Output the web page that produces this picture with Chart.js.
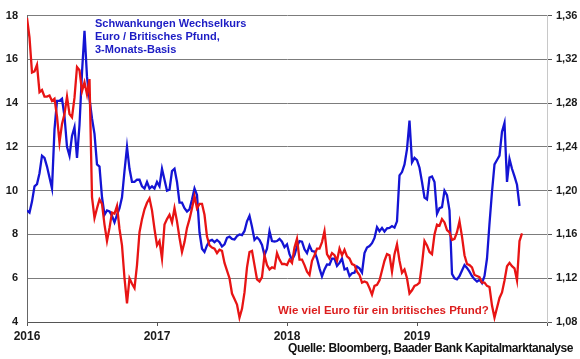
<!DOCTYPE html>
<html>
<head>
<meta charset="utf-8">
<script src="https://cdn.jsdelivr.net/npm/chart.js@4/dist/chart.umd.min.js"></script>
<style>
  body { margin: 0; background: #fff; }
  #wrap { position: relative; width: 580px; height: 359px; }
  .note { position: absolute; font-family: "Liberation Sans", Arial, sans-serif; font-weight: bold; white-space: nowrap; }
  #title { left: 95px; top: 17px; font-size: 11px; line-height: 13px; color: #1c1cc4; }
  #redNote { left: 278px; top: 303px; font-size: 11.5px; line-height: 14px; color: #dc1e1e; }
  #source { left: 288px; top: 341px; font-size: 12px; line-height: 14px; color: #111; letter-spacing: -0.45px; }
</style>
</head>
<body>
<div id="wrap">
  <canvas id="chart" width="580" height="359"></canvas>
  <div class="note" id="title">Schwankungen Wechselkurs<br>Euro / Britisches Pfund,<br>3-Monats-Basis</div>
  <div class="note" id="redNote">Wie viel Euro für ein britisches Pfund?</div>
  <div class="note" id="source">Quelle: Bloomberg, Baader Bank Kapitalmarktanalyse</div>
</div>
<script>
// weekly samples starting in the first week of 2016
const firstYear = 2016;
const weeksPerYear = 52;

// 3-month EUR/GBP volatility (left axis)
const volatility = [
  9.1, 9.0, 9.5, 10.2, 10.3, 10.8, 11.6, 11.5, 11.1, 10.6,
  10.1, 12.8, 14.1, 14.1, 14.2, 13.4, 12.0, 11.6, 12.5, 12.9,
  11.5, 13.0, 15.4, 17.3, 15.2, 14.2, 13.3, 12.6, 11.2, 11.1,
  9.7, 8.9, 9.1, 9.05, 8.85, 8.55, 8.9, 9.2, 9.7, 10.9,
  12.0, 11.0, 10.4, 10.4, 10.5, 10.5, 10.2, 10.1, 10.4, 10.1,
  10.2, 10.1, 10.4, 10.2, 11.0, 10.5, 10.0, 10.05, 10.9, 11.0,
  10.4, 9.45, 9.45, 9.2, 9.05, 9.15, 9.6, 10.1, 9.8, 8.1,
  7.35, 7.2, 7.5, 7.7, 7.75, 7.65, 7.75, 7.65, 7.45, 7.55,
  7.85, 7.9, 7.8, 7.77, 7.93, 8.0, 7.97, 8.16, 8.6, 8.85,
  8.35, 7.75, 7.87, 7.75, 7.52, 7.05, 7.35, 8.15, 7.7, 7.68,
  7.7, 7.8, 7.67, 7.42, 7.55, 7.1, 6.84, 7.06, 7.45, 7.7,
  7.67, 7.32, 7.15, 7.5, 7.24, 7.22, 6.9, 6.45, 6.08, 6.4,
  6.63, 6.62, 6.9, 6.9, 6.56, 6.7, 6.9, 6.4, 6.45, 6.1,
  6.23, 6.25, 6.53, 6.45, 6.26, 7.15, 7.4, 7.47, 7.6, 7.84,
  8.33, 8.15, 8.3, 8.13, 8.28, 8.3, 8.38, 8.31, 8.6, 10.7,
  10.85, 11.2, 11.9, 13.2, 11.3, 11.5, 11.4, 11.05, 10.4, 9.68,
  9.6, 10.6, 10.65, 10.4, 8.95, 9.2, 9.25, 10.0, 9.8, 9.1,
  6.2, 6.0, 5.95, 6.1, 6.35, 6.6, 6.47, 6.3, 6.1, 5.95,
  5.85, 5.93, 5.78, 6.1, 6.9, 8.5, 9.95, 11.2, 11.4, 11.6,
  12.7, 13.1, 10.4, 11.45, 11.0, 10.65, 10.27, 9.3
];

// euros per British pound (right axis)
const eurGbp = [
  1.358, 1.340, 1.308, 1.309, 1.315, 1.290, 1.292, 1.286, 1.286, 1.287,
  1.282, 1.284, 1.268, 1.244, 1.261, 1.270, 1.286, 1.270, 1.267, 1.285,
  1.313, 1.310, 1.291, 1.299, 1.288, 1.302, 1.194, 1.175, 1.184, 1.192,
  1.188, 1.169, 1.154, 1.166, 1.180, 1.179, 1.186, 1.165, 1.150, 1.120,
  1.097, 1.120, 1.115, 1.111, 1.132, 1.162, 1.174, 1.183, 1.189, 1.193,
  1.182, 1.165, 1.150, 1.154, 1.138, 1.169, 1.174, 1.178, 1.171, 1.184,
  1.172, 1.157, 1.144, 1.153, 1.166, 1.174, 1.184, 1.195, 1.184, 1.188,
  1.188, 1.178, 1.158, 1.150, 1.148, 1.147, 1.143, 1.146, 1.145, 1.134,
  1.127, 1.120, 1.106, 1.101, 1.096, 1.084, 1.092, 1.107, 1.130, 1.144,
  1.145, 1.132, 1.119, 1.117, 1.121, 1.141, 1.132, 1.128, 1.130, 1.129,
  1.143, 1.137, 1.133, 1.133, 1.132, 1.137, 1.134, 1.148, 1.156, 1.137,
  1.137, 1.132, 1.126, 1.123, 1.136, 1.141, 1.147, 1.147, 1.153, 1.163,
  1.142, 1.138, 1.143, 1.141, 1.136, 1.147, 1.141, 1.146, 1.140, 1.138,
  1.133, 1.132, 1.126, 1.123, 1.116, 1.117, 1.116, 1.111, 1.105, 1.113,
  1.114, 1.118, 1.127, 1.136, 1.142, 1.141, 1.126, 1.142, 1.151, 1.136,
  1.125, 1.128, 1.120, 1.106, 1.109, 1.113, 1.114, 1.116, 1.133, 1.154,
  1.150, 1.144, 1.142, 1.160, 1.169, 1.168, 1.174, 1.171, 1.164, 1.162,
  1.155, 1.156, 1.162, 1.172, 1.158, 1.141, 1.133, 1.132, 1.130, 1.123,
  1.122, 1.121, 1.116, 1.116, 1.113, 1.112, 1.095, 1.084, 1.093, 1.102,
  1.107, 1.118, 1.131, 1.134, 1.131, 1.129, 1.118, 1.154, 1.161
];

const yearLabels = ['2016', '2017', '2018', '2019'];

const weekToYear = i => firstYear + i / weeksPerYear;
const toPoints = arr => arr.map((v, i) => ({ x: weekToYear(i), y: v }));

Chart.defaults.font.family = '"Liberation Sans", Arial, sans-serif';
Chart.defaults.font.weight = 'bold';
Chart.defaults.font.size = 11;
Chart.defaults.color = '#1a1a1a';

new Chart(document.getElementById('chart'), {
  type: 'line',
  data: {
    datasets: [
      {
        label: 'EUR/GBP',
        data: toPoints(eurGbp),
        yAxisID: 'y1',
        borderColor: '#e81414',
        borderWidth: 2.3,
        pointRadius: 0,
        order: 0
      },
      {
        label: 'Volatilität',
        data: toPoints(volatility),
        yAxisID: 'y',
        borderColor: '#1414d4',
        borderWidth: 2.3,
        pointRadius: 0,
        order: 1
      }
    ]
  },
  options: {
    responsive: false,
    animation: false,
    devicePixelRatio: 1,
    layout: { padding: { top: 15, left: 0, right: 0, bottom: 0 } },
    plugins: { legend: { display: false }, tooltip: { enabled: false } },
    scales: {
      x: {
        type: 'linear',
        min: 2016,
        max: 2020,
        afterFit: s => { s.height = 37; },
        border: { color: '#555' },
        grid: { drawOnChartArea: false, tickLength: 4, color: '#555' },
        ticks: {
          stepSize: 1,
          autoSkip: false,
          maxRotation: 0,
          padding: 3,
          font: { size: 12 },
          callback: v => yearLabels[v - firstYear] || ''
        }
      },
      y: {
        position: 'left',
        min: 4,
        max: 18,
        afterFit: s => { s.width = 27; },
        border: { color: '#666' },
        grid: { color: '#7c7c7c', drawTicks: false },
        ticks: { stepSize: 2, padding: 9 }
      },
      y1: {
        position: 'right',
        min: 1.08,
        max: 1.36,
        afterFit: s => { s.width = 33; },
        border: { color: '#c8c8c8' },
        grid: { drawOnChartArea: false, tickLength: 5, color: '#555' },
        ticks: {
          stepSize: 0.04,
          padding: 4,
          callback: v => v.toFixed(2).replace('.', ',')
        }
      }
    }
  }
});
</script>
</body>
</html>
